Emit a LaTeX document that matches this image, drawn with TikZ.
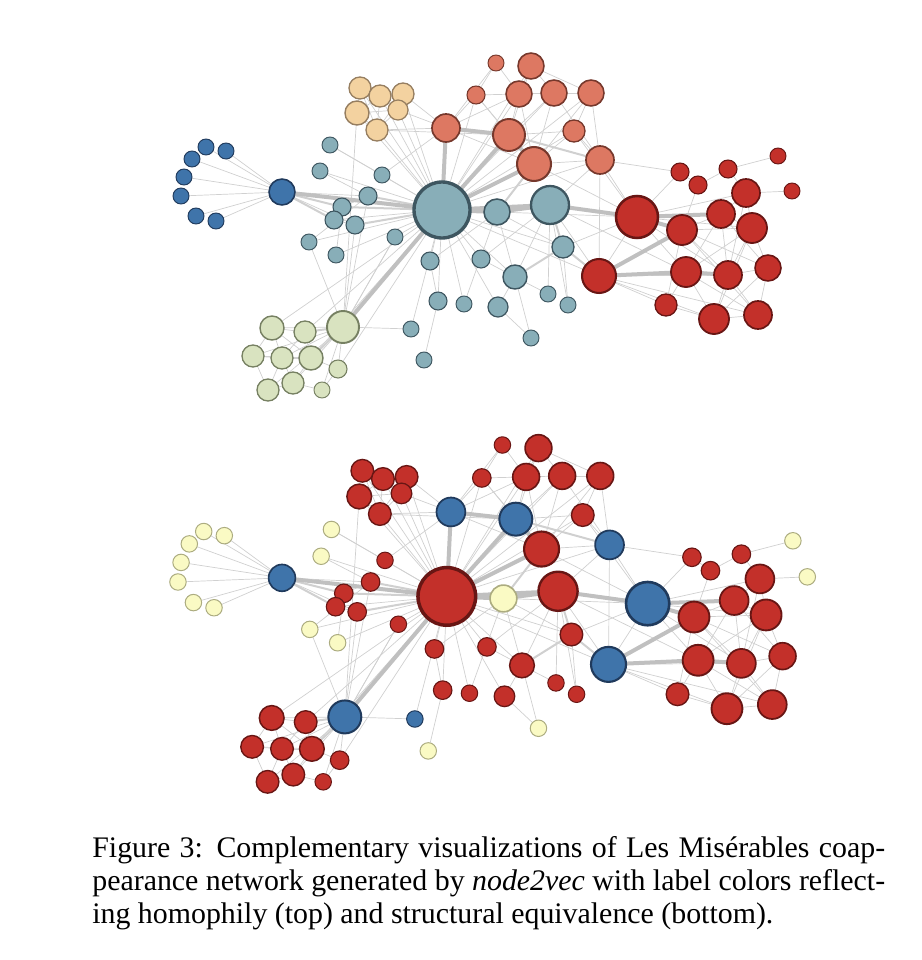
\documentclass[tikz,border=0pt]{standalone}
\usepackage{fontspec}
\setmainfont{Liberation Serif}
\usetikzlibrary{backgrounds}

\definecolor{homteal}{RGB}{136,174,184}
\definecolor{homtealdark}{RGB}{62,86,96}
\definecolor{homblue}{RGB}{63,116,170}
\definecolor{hombluedark}{RGB}{32,58,92}
\definecolor{homtan}{RGB}{243,210,160}
\definecolor{homtandark}{RGB}{150,126,96}
\definecolor{homorange}{RGB}{221,120,98}
\definecolor{homorangedark}{RGB}{118,56,44}
\definecolor{homred}{RGB}{195,48,42}
\definecolor{homreddark}{RGB}{104,22,20}
\definecolor{homgreen}{RGB}{217,227,192}
\definecolor{homgreendark}{RGB}{118,128,98}
\definecolor{sepale}{RGB}{250,250,196}
\definecolor{sepaledark}{RGB}{172,172,128}
\definecolor{linkgray}{RGB}{208,208,208}
\definecolor{heavygray}{RGB}{192,192,192}

% id / x / y / radius / colour top / colour bottom  (pixels)
\def\netnodes{1/206/147/8/b/p, 2/226/151/8/b/p, 3/192/159/8/b/p, 4/184/177/8/b/p,
  5/181/196/8/b/p, 6/196/216/8/b/p, 7/216/221/8/b/p, 8/282/192/13/b/b,
  9/360/88/11/y/r, 10/380/96/11/y/r, 11/403/94/11/y/r, 12/357/113/12/y/r,
  13/398/110/10/y/r, 14/377/130/11/y/r,
  15/330/145/8/t/p, 16/320/171/8/t/p, 17/382/175/8/t/r, 18/368/196/9/t/r,
  19/342/207/9/t/r, 20/334/220/9/t/r, 21/355/225/9/t/r, 22/395/237/8/t/r,
  23/309/242/8/t/p, 24/336/255/8/t/p, 25/442/210/28/t/r,
  26/446/128/14/o/b, 27/496/63/8/o/r, 28/531/66/13/o/r, 29/476/95/9/o/r,
  30/519/94/13/o/r, 31/554/93/13/o/r, 32/591/93/13/o/r, 33/509/135/16/o/b,
  34/574/131/11/o/r, 35/534/164/17/o/r, 36/600/160/14/o/b,
  37/497/212/13/t/p, 38/550/205/19/t/r, 39/563/247/11/t/r, 40/515/277/12/t/r,
  41/430/261/9/t/r, 42/481/259/9/t/r, 43/438/301/9/t/r, 44/464/304/8/t/r,
  45/498/307/10/t/r, 46/548/294/8/t/r, 47/568/305/8/t/r, 48/531/338/8/t/p,
  49/411/329/8/t/b, 50/424/360/8/t/p,
  51/599/276/17/r/b, 52/637/217/21/r/b, 53/682/230/15/r/r, 54/721/214/14/r/r,
  55/752/228/15/r/r, 56/746/193/14/r/r, 57/680/172/9/r/r, 58/698/185/9/r/r,
  59/728/169/9/r/r, 60/778/156/8/r/p, 61/792/191/8/r/p, 62/686/272/15/r/r,
  63/728/275/14/r/r, 64/768/268/13/r/r, 65/666/305/11/r/r, 66/714/319/15/r/r,
  67/758/315/14/r/r,
  68/343/327/16/g/b, 69/272/328/12/g/r, 70/305/332/11/g/r, 71/253/356/11/g/r,
  72/282/358/11/g/r, 73/311/358/12/g/r, 74/338/369/9/g/r, 75/268/390/11/g/r,
  76/293/383/11/g/r, 77/322/390/8/g/r}

\def\thinlinks{1/8,2/8,3/8,4/8,5/8,6/8,7/8,8/21,8/18,
  9/10,9/12,10/11,10/13,11/13,12/14,13/14,9/14,10/14,11/14,12/13,10/12,
  9/25,10/25,11/25,12/25,13/25,14/25,13/26,14/26,12/68,14/33,11/26,
  15/25,15/17,16/18,16/25,17/25,20/25,22/25,23/18,24/25,23/25,22/68,18/19,
  20/21,19/20,24/19,17/26,
  26/29,26/35,27/30,28/30,28/31,29/30,30/31,31/32,30/33,31/33,32/34,32/36,
  33/34,34/35,35/36,30/25,31/25,32/25,34/25,36/25,36/38,36/52,31/35,28/33,
  29/33,32/35,34/36,31/36,30/35,29/25,28/25,26/30,27/29,28/32,29/35,26/27,
  39/25,40/25,41/25,42/25,42/40,43/25,44/25,45/40,46/40,47/39,48/40,49/25,
  50/43,38/40,37/40,41/37,45/25,46/38,47/38,44/37,42/38,43/41,48/45,39/37,
  51/52,51/63,51/65,51/66,51/38,51/25,52/55,52/56,52/57,52/25,53/54,53/55,
  53/63,54/55,54/56,54/62,54/63,55/56,55/64,55/63,56/59,56/61,57/58,58/59,
  59/60,62/65,62/66,62/67,63/64,63/66,63/67,64/67,64/66,65/66,66/67,58/53,
  53/64,56/63,52/62,52/63,51/67,53/67,54/64,55/62,55/66,36/57,35/52,52/39,
  36/51,34/52,38/62,53/65,
  68/69,68/71,68/72,68/74,68/76,68/77,69/70,69/71,69/72,70/72,70/73,71/72,
  71/75,72/73,72/75,72/76,73/76,75/76,69/73,70/25,73/25,74/25,68/49,68/21,
  68/18,69/25,71/73,68/75,74/77,76/77,73/74,68/23,68/22}
\def\midlinks{8/19,8/20,18/25,19/25,21/25,38/39,39/40,39/51,68/73,68/70,37/35,33/36}
\def\heavylinks{8/25,26/25,26/33,33/35,33/25,35/25,37/25,37/38,38/25,38/52,
  51/53,51/62,52/54,62/63,68/25,52/53}

\begin{document}
\begin{tikzpicture}[x=0.02cm,y=-0.02cm]
  \tikzstyle{vertex}=[circle,draw,inner sep=0pt,outer sep=0pt]
  \tikzstyle{t node}=[vertex,fill=homteal,draw=homtealdark]
  \tikzstyle{b node}=[vertex,fill=homblue,draw=hombluedark]
  \tikzstyle{y node}=[vertex,fill=homtan,draw=homtandark]
  \tikzstyle{o node}=[vertex,fill=homorange,draw=homorangedark]
  \tikzstyle{r node}=[vertex,fill=homred,draw=homreddark]
  \tikzstyle{g node}=[vertex,fill=homgreen,draw=homgreendark]
  \tikzstyle{p node}=[vertex,fill=sepale,draw=sepaledark]
  \tikzstyle{link}=[draw=linkgray,line width=0.14mm]
  \tikzstyle{mid link}=[draw=linkgray,line width=0.4mm]
  \tikzstyle{heavy link}=[draw=heavygray,line width=0.8mm]

  \useasboundingbox (0,0) rectangle (922,960);

  % homophily (top)
  \foreach \i/\x/\y/\r/\ct/\cb in \netnodes
    \node[\ct\space node,minimum size=\r*0.4mm,line width=\r*0.024mm] (t\i) at (\x,\y) {};

  % structural equivalence (bottom)
  \foreach \i/\x/\y/\r/\ct/\cb in \netnodes
    \node[\cb\space node,minimum size=\r*0.412mm,line width=\r*0.025mm] (b\i)
      at ({282+(\x-282)*1.03},{445+(\y-63)*1.03}) {};

  \begin{scope}[on background layer]
    \foreach \a/\b in \thinlinks {
      \draw[link] (t\a) -- (t\b);
      \draw[link] (b\a) -- (b\b);
    }
    \foreach \a/\b in \midlinks {
      \draw[mid link] (t\a) -- (t\b);
      \draw[mid link] (b\a) -- (b\b);
    }
    \foreach \a/\b in \heavylinks {
      \draw[heavy link] (t\a) -- (t\b);
      \draw[heavy link] (b\a) -- (b\b);
    }
  \end{scope}

  \node[anchor=base west,inner sep=0pt,text width=15.86cm,align=justify,
        font=\fontsize{17pt}{18.9pt}\selectfont] (caption) at (92,857)
    {Figure 3: Complementary visualizations of Les Misérables coap-\linebreak
     pearance network generated by \textit{node2vec} with label colors reflect-\linebreak
     ing homophily (top) and structural equivalence (bottom).};
\end{tikzpicture}
\end{document}
